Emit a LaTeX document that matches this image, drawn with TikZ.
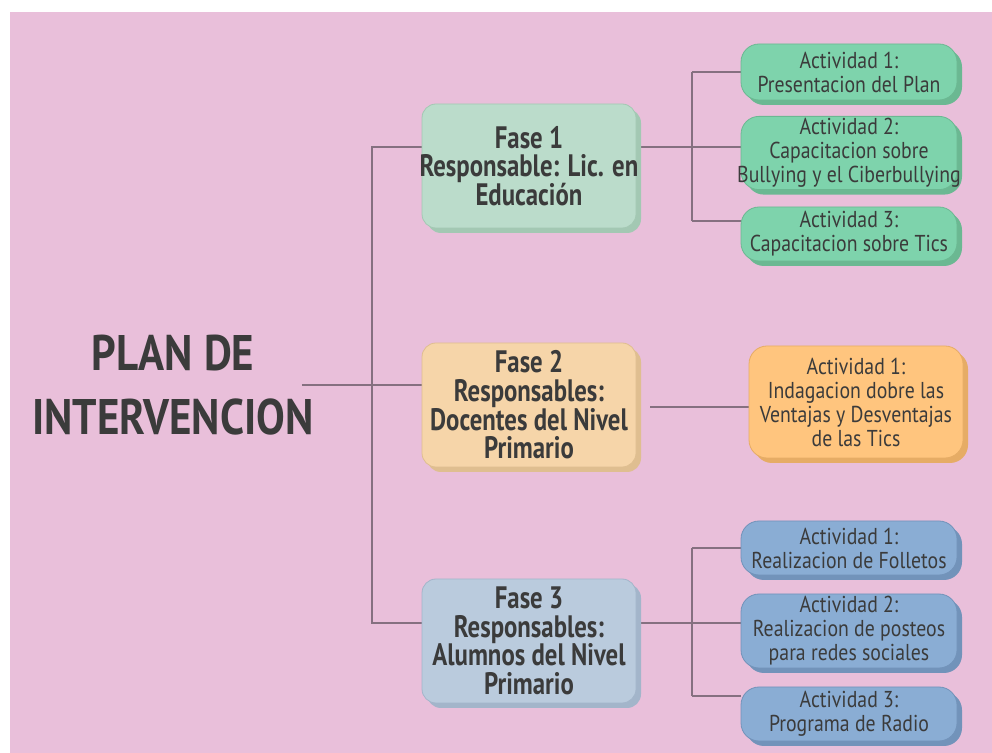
\documentclass[tikz,border=0pt]{standalone}
\usepackage{fontspec}
\setmainfont{PT Sans}
\newfontfamily\titlecond[FakeStretch=0.86]{PT Sans}
\newfontfamily\boldcond[FakeStretch=0.8]{PT Sans}
\newfontfamily\regcond[FakeStretch=0.86]{PT Sans}
\usetikzlibrary{positioning,shadows,backgrounds}

\definecolor{pinkbg}{HTML}{E9BFDA}
\definecolor{inkgray}{HTML}{3B3B3B}
\definecolor{linkgray}{HTML}{857080}
\definecolor{mintfill}{HTML}{BBDCCB}
\definecolor{mintdark}{HTML}{A3C8B3}
\definecolor{greenfill}{HTML}{7ED3AC}
\definecolor{greendark}{HTML}{6BB892}
\definecolor{peachfill}{HTML}{F6D5A9}
\definecolor{peachdark}{HTML}{DFBE90}
\definecolor{orangefill}{HTML}{FFC57E}
\definecolor{orangedark}{HTML}{E6AC65}
\definecolor{paleblue}{HTML}{BACBDD}
\definecolor{palebluedark}{HTML}{A3B5CA}
\definecolor{bluefill}{HTML}{8AADD4}
\definecolor{bluedark}{HTML}{7293BA}

\begin{document}
\begin{tikzpicture}[x=0.5pt, y=-0.5pt,
    every node/.style={text=inkgray},
    fasebox/.style 2 args={
      rounded corners=7pt, fill=#1, draw=#2, line width=0.4pt,
      minimum width=107pt, minimum height=62pt, inner ysep=1pt, inner xsep=-6pt, align=center,
      font=\boldcond\bfseries\fontsize{15.5pt}{14.3pt}\selectfont,
      general shadow={shadow xshift=2.5pt, shadow yshift=-2.5pt, fill=#2}
    },
    actbox/.style 2 args={
      rounded corners=9pt, fill=#1, draw=#2, line width=0.4pt,
      minimum width=108pt, inner ysep=1pt, inner xsep=-6pt, align=center,
      font=\regcond\fontsize{11.5pt}{12pt}\selectfont,
      general shadow={shadow xshift=2.5pt, shadow yshift=-2.5pt, fill=#2}
    },
    conn/.style={draw=linkgray, line width=0.8pt}
  ]
  \useasboundingbox (0,0) rectangle (992,753);

  % root
  \node[inner sep=0pt, align=center,
        font=\titlecond\bfseries\fontsize{25pt}{32pt}\selectfont] (plan) at (173,385)
        {PLAN DE\\INTERVENCION};

  % phases
  \node[fasebox={mintfill}{mintdark}]   (fase1) at (529,166) {Fase 1\\Responsable: Lic. en\\Educación};
  \node[fasebox={peachfill}{peachdark}] (fase2) at (529,405) {Fase 2\\Responsables:\\Docentes del Nivel\\Primario};
  \node[fasebox={paleblue}{palebluedark}] (fase3) at (529,641) {Fase 3\\Responsables:\\Alumnos del Nivel\\Primario};

  % activities
  \node[actbox={greenfill}{greendark}, minimum height=28pt] (a11) at (849,72)  {Actividad 1:\\Presentacion del Plan};
  \node[actbox={greenfill}{greendark}, minimum height=36pt] (a12) at (849,153) {Actividad 2:\\Capacitacion sobre\\Bullying y el Ciberbullying};
  \node[actbox={greenfill}{greendark}, minimum height=27pt] (a13) at (849,234) {Actividad 3:\\Capacitacion sobre Tics};

  \node[actbox={orangefill}{orangedark}, minimum width=107pt, minimum height=56pt] (a21) at (856,402)
        {Actividad 1:\\Indagacion dobre las\\Ventajas y Desventajas\\de las Tics};

  \node[actbox={bluefill}{bluedark}, minimum height=27pt] (a31) at (849,548) {Actividad 1:\\Realizacion de Folletos};
  \node[actbox={bluefill}{bluedark}, minimum height=37pt] (a32) at (849,631) {Actividad 2:\\Realizacion de posteos\\para redes sociales};
  \node[actbox={bluefill}{bluedark}, minimum height=27pt] (a33) at (849,714) {Actividad 3:\\Programa de Radio};

  % junctions
  \coordinate (c1) at (372,147);
  \coordinate (c3) at (372,623);
  \coordinate (t11) at (692,72);
  \coordinate (t12) at (692,147);
  \coordinate (t13) at (692,221);
  \coordinate (t21) at (650,407);
  \coordinate (t31) at (692,548);
  \coordinate (t32) at (692,623);
  \coordinate (t33) at (692,696);

  \begin{scope}[on background layer]
    \fill[pinkbg] (10,12) rectangle (992,753);
    \draw[conn] ([xshift=-6pt]plan.east) -- (plan.east -| fase2.west);
    \draw[conn] (c1 -| fase1.west) -- (c1) -- (c3) -- (c3 -| fase3.west);
    \draw[conn] (fase1.east |- c1) -- (t12);
    \draw[conn] (t11) -- (t13);
    \foreach \i in {11,12,13}
      \draw[conn] (t\i) -- (t\i -| a\i.west);
    \draw[conn] (t21) -- (t21 -| a21.west);
    \draw[conn] (fase3.east |- c3) -- (t32);
    \draw[conn] (t31) -- (t33);
    \foreach \i in {31,32,33}
      \draw[conn] (t\i) -- (t\i -| a\i.west);
  \end{scope}
\end{tikzpicture}
\end{document}
